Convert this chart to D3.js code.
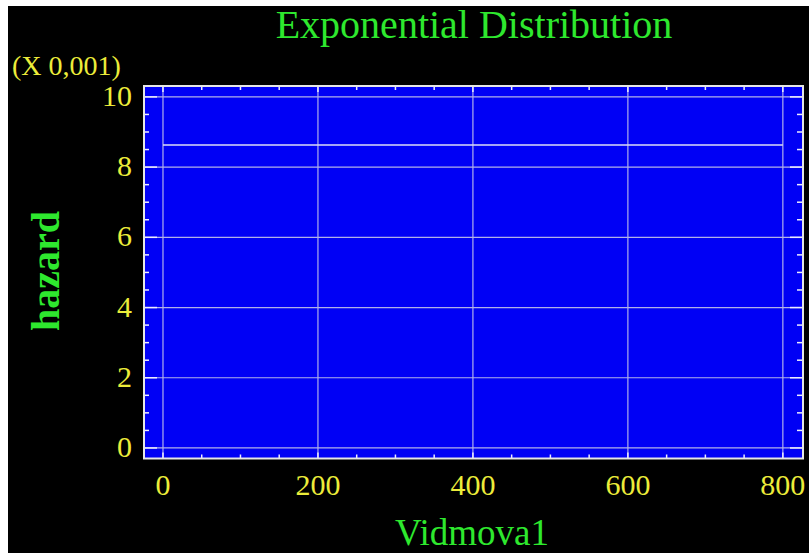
<!DOCTYPE html>
<html>
<head>
<meta charset="utf-8">
<script src="https://cdn.jsdelivr.net/npm/d3@7"></script>
<style>
  body { margin: 0; background: #fff; }
  svg { display: block; }
</style>
</head>
<body>
<script>
// hazard of the fitted exponential distribution (constant rate)
var timeValues = [0, 800]
var hazardValues = [0.00863, 0.00863]
var xTicks = [0, 200, 400, 600, 800]
var yTicks = [0, 2, 4, 6, 8, 10]
var yScaleFactor = 1000 // axis shown in units of 0,001

;(function() {
  var width = 809, height = 553
  var svg = d3.select('body').append('svg')
    .attr('width', width)
    .attr('height', height)

  svg.append('rect').attr('width', width).attr('height', height).attr('fill', '#fff')
  svg.append('rect').attr('x', 8).attr('y', 6)
    .attr('width', width - 8).attr('height', height - 6).attr('fill', '#000')

  var pLeft = 144, pRight = 803, pTop = 86, pBottom = 458.5

  var x = d3.scaleLinear().domain([-24.5, 826]).range([pLeft, pRight])
  var y = d3.scaleLinear().domain([-0.3, 10.31]).range([pBottom, pTop])

  var serif = 'Liberation Serif, Times New Roman, serif'
  var green = '#2ee82e', yellow = '#ecec3a'

  svg.append('rect')
    .attr('x', pLeft).attr('y', pTop)
    .attr('width', pRight - pLeft).attr('height', pBottom - pTop)
    .attr('fill', '#0000f5')

  // grid
  var grid = svg.append('g').attr('stroke', '#b0b0e8').attr('stroke-width', 1.2)
  grid.selectAll('.gx').data(xTicks).enter().append('line')
    .attr('x1', d => x(d)).attr('x2', d => x(d))
    .attr('y1', pTop).attr('y2', pBottom)
  grid.selectAll('.gy').data(yTicks).enter().append('line')
    .attr('x1', pLeft).attr('x2', pRight)
    .attr('y1', d => y(d)).attr('y2', d => y(d))

  // hazard line
  var line = d3.line()
    .x((d, i) => x(timeValues[i]))
    .y(d => y(d * yScaleFactor))
  svg.append('path')
    .attr('d', line(hazardValues))
    .attr('fill', 'none')
    .attr('stroke', '#dcdcf4')
    .attr('stroke-width', 1.5)

  // ticks inside the frame
  var ticks = svg.append('g').attr('stroke', '#ececff').attr('stroke-width', 1.5)
  var yMinor = d3.range(0, 10.01, 0.5)
  var xMinor = d3.range(0, 800.1, 50)
  ticks.selectAll('.yl').data(yMinor).enter().append('line')
    .attr('x1', pLeft).attr('x2', d => pLeft + (d % 2 === 0 ? 13 : 5))
    .attr('y1', d => y(d)).attr('y2', d => y(d))
  ticks.selectAll('.yr').data(yMinor).enter().append('line')
    .attr('x1', pRight).attr('x2', d => pRight - (d % 2 === 0 ? 13 : 6))
    .attr('y1', d => y(d)).attr('y2', d => y(d))
  ticks.selectAll('.xb').data(xMinor).enter().append('line')
    .attr('x1', d => x(d)).attr('x2', d => x(d))
    .attr('y1', pBottom).attr('y2', d => pBottom - (d % 200 === 0 ? 6 : 4))
  ticks.selectAll('.xt').data(xMinor).enter().append('line')
    .attr('x1', d => x(d)).attr('x2', d => x(d))
    .attr('y1', pTop).attr('y2', d => pTop + (d % 200 === 0 ? 6 : 4))

  // frame
  svg.append('rect')
    .attr('x', pLeft).attr('y', pTop)
    .attr('width', pRight - pLeft).attr('height', pBottom - pTop)
    .attr('fill', 'none').attr('stroke', '#e6e6e6').attr('stroke-width', 2)

  // tick labels
  svg.append('g').selectAll('text').data(xTicks).enter().append('text')
    .attr('x', d => x(d)).attr('y', 495)
    .attr('text-anchor', 'middle')
    .attr('font-family', serif).attr('font-size', 30)
    .attr('fill', yellow)
    .text(d => d)
  svg.append('g').selectAll('text').data(yTicks).enter().append('text')
    .attr('x', 132).attr('y', d => y(d) + 9)
    .attr('text-anchor', 'end')
    .attr('font-family', serif).attr('font-size', 30)
    .attr('fill', yellow)
    .text(d => d)

  svg.append('text')
    .attr('x', 12).attr('y', 75)
    .attr('font-family', serif).attr('font-size', 28)
    .attr('fill', yellow)
    .text('(X 0,001)')

  // titles
  svg.append('text')
    .attr('x', 474).attr('y', 38)
    .attr('text-anchor', 'middle')
    .attr('font-family', serif).attr('font-size', 40)
    .attr('fill', green)
    .text('Exponential Distribution')

  svg.append('text')
    .attr('x', 472).attr('y', 545)
    .attr('text-anchor', 'middle')
    .attr('font-family', serif).attr('font-size', 37)
    .attr('fill', green)
    .text('Vidmova1')

  svg.append('text')
    .attr('transform', 'translate(59,271) rotate(-90)')
    .attr('text-anchor', 'middle')
    .attr('font-family', serif).attr('font-size', 40).attr('font-weight', 'bold')
    .attr('fill', green)
    .text('hazard')
})()
</script>
</body>
</html>
